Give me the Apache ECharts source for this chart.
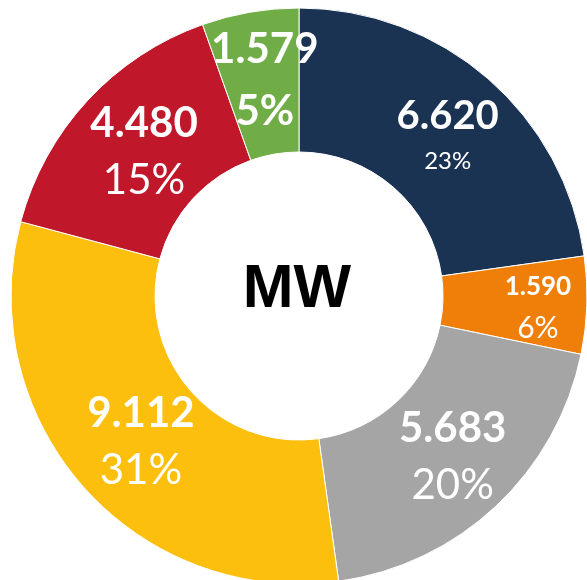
<!DOCTYPE html>
<html>
<head>
<meta charset="utf-8">
<script src="https://cdn.jsdelivr.net/npm/echarts@6/dist/echarts.min.js"></script>
<style>
  html, body { margin: 0; padding: 0; background: #fff; }
  #chart { width: 587px; height: 580px; }
</style>
</head>
<body>
<div id="chart"></div>
<script>
  // values in MW, clockwise from 12 o'clock
  const names = ['A', 'B', 'C', 'D', 'E', 'F'];
  const values = [6.620, 1.590, 5.683, 9.112, 4.480, 1.579];
  const percents = ['23%', '6%', '20%', '31%', '15%', '5%'];
  const colors = ['#1a3353', '#f07f09', '#a5a5a5', '#fcbf0e', '#c0172a', '#70ad47'];

  // per-slice label look (sizes differ slice to slice in the original)
  const labelStyles = [
    { vSize: 40, vLH: 52, pSize: 24, pLH: 40, pBold: false, offset: [5, 5] },
    { vSize: 26, vLH: 40, pSize: 30, pLH: 42, pBold: false, offset: [20, 5] },
    { vSize: 42, vLH: 57, pSize: 42, pLH: 57, pBold: false, offset: [4, 1] },
    { vSize: 42, vLH: 57, pSize: 42, pLH: 57, pBold: false, offset: [6, 1] },
    { vSize: 42, vLH: 57, pSize: 42, pLH: 57, pBold: false, offset: [6, 4] },
    { vSize: 42, vLH: 62, pSize: 42, pLH: 62, pBold: true, offset: [3, 0] }
  ];

  const chart = echarts.init(document.getElementById('chart'));

  const data = values.map((v, i) => {
    const s = labelStyles[i];
    return {
      name: names[i],
      value: v,
      itemStyle: { color: colors[i] },
      label: {
        offset: s.offset,
        formatter: '{v|' + v.toFixed(3) + '}\n{p|' + percents[i] + '}',
        rich: {
          v: { fontSize: s.vSize, lineHeight: s.vLH, fontWeight: 'bold', color: '#fff', fontFamily: 'Lato' },
          p: { fontSize: s.pSize, lineHeight: s.pLH, fontWeight: s.pBold ? 'bold' : 'normal', color: '#fff', fontFamily: 'Lato' }
        }
      }
    };
  });

  chart.setOption({
    animation: false,
    graphic: [{
      type: 'text',
      x: 297,
      y: 290,
      style: {
        text: 'MW',
        fill: '#000',
        font: 'bold 61px "Liberation Sans", Arial, sans-serif',
        textAlign: 'center',
        textVerticalAlign: 'middle'
      }
    }],
    series: [{
      type: 'pie',
      center: [299, 296],
      radius: [144, 288],
      startAngle: 90,
      clockwise: true,
      avoidLabelOverlap: false,
      itemStyle: { borderColor: '#fff', borderWidth: 1 },
      label: { show: true, position: 'inside', align: 'center' },
      labelLine: { show: false },
      emphasis: { disabled: true },
      data: data
    }]
  });
</script>
</body>
</html>
